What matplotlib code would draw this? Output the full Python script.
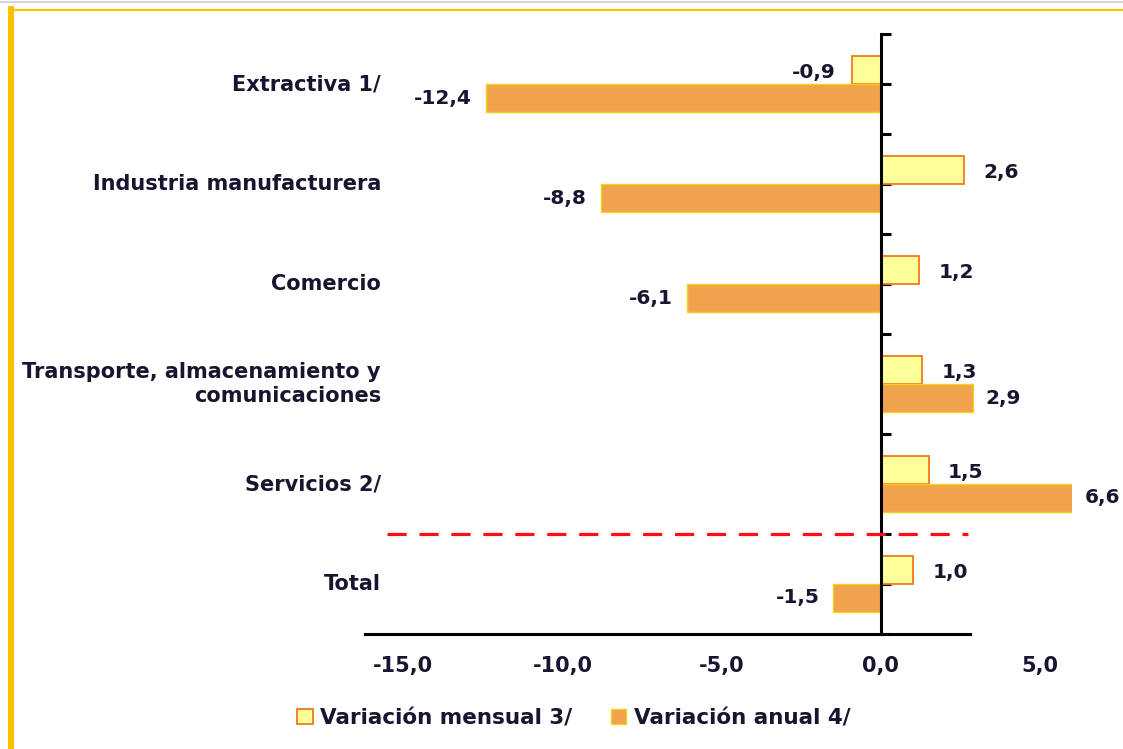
import matplotlib
matplotlib.use("Agg")
import matplotlib.pyplot as plt
from matplotlib.lines import Line2D
from matplotlib.patches import Patch
import numpy as np

categories = ["Extractiva 1/", "Industria manufacturera", "Comercio",
              "Transporte, almacenamiento y\ncomunicaciones", "Servicios 2/", "Total"]
monthly = [-0.9, 2.6, 1.2, 1.3, 1.5, 1.0]
annual = [-12.4, -8.8, -6.1, 2.9, 6.6, -1.5]
xticks = [-15.0, -10.0, -5.0, 0.0, 5.0]
legend_labels = ["Variación mensual 3/", "Variación anual 4/"]

plt.rcParams['font.family'] = ['DejaVu Sans']
TXT = '#161630'
FS_CAT = 15
FS_VAL = 14.5
FS_TICK = 15
FS_LEG = 15.5

W, H = 1123, 749
fig = plt.figure(figsize=(W / 100, H / 100), dpi=100)
fig.patch.set_facecolor('white')
ax = fig.add_axes([365 / W, 1 - 634 / H, (1072 - 365) / W, 600 / H])

XMIN, XMAX = -16.2, 6.0
y = np.arange(len(categories))
h = 0.28
ax.barh(y - h / 2, monthly, height=h, color='#FFFF99', edgecolor='#F07A1E', linewidth=1.3, zorder=2)
ax.barh(y + h / 2, annual, height=h, color='#F0A24C', edgecolor='#F2D21A', linewidth=1.0, zorder=2)

ax.set_xlim(XMIN, XMAX)
ax.set_ylim(len(categories) - 0.5, -0.5)

def fmt(v):
    return f"{v:.1f}".replace('.', ',')

for yi, v in zip(y, monthly):
    anchor = min(v, XMAX)
    ax.annotate(fmt(v), (anchor, yi - h / 2), xytext=(14 if v >= 0 else -12, -2),
                textcoords='offset points', ha='left' if v >= 0 else 'right', va='center',
                fontsize=FS_VAL, fontweight='bold', color=TXT)
for yi, v in zip(y, annual):
    anchor = min(v, XMAX)
    ax.annotate(fmt(v), (anchor, yi + h / 2), xytext=(9 if v >= 0 else -10, 0),
                textcoords='offset points', ha='left' if v >= 0 else 'right', va='center',
                fontsize=FS_VAL, fontweight='bold', color=TXT, annotation_clip=False)

# category labels
for yi, c in zip(y, categories):
    ax.text(0.0226, yi, c, transform=ax.get_yaxis_transform(), ha='right', va='center',
            fontsize=FS_CAT, fontweight='bold', color=TXT, linespacing=1.25)

# separator
ax.hlines(4.5, -15.5, 2.75, colors='#FF1010', linewidth=2.3, linestyles=(0, (6, 4)), zorder=3)

for s in ['top', 'right']:
    ax.spines[s].set_visible(False)
ax.spines['left'].set_position(('data', 0))
ax.spines['left'].set_linewidth(2.2)
ax.spines['bottom'].set_linewidth(2.2)
ax.spines['bottom'].set_bounds(XMIN, 2.8)

ax.set_yticks(np.arange(-0.5, len(categories), 0.5))
ax.tick_params(axis='y', direction='in', length=7, width=2.2, labelleft=False)
ax.set_xticks(xticks)
ax.set_xticklabels([fmt(t) for t in xticks])
ax.tick_params(axis='x', length=0, pad=16, labelsize=FS_TICK, labelcolor=TXT)
for lbl in ax.get_xticklabels():
    lbl.set_fontweight('bold')

handles = [Patch(facecolor='#FFFF99', edgecolor='#F07A1E', linewidth=1.3),
           Patch(facecolor='#F0A24C', edgecolor='#F2D21A', linewidth=1.0)]
leg = fig.legend(handles, legend_labels, loc='center', bbox_to_anchor=(0.511, 1 - 718 / H),
                 ncol=2, frameon=False, handlelength=0.7, handleheight=0.7, handletextpad=0.35,
                 columnspacing=1.8, prop={'size': FS_LEG, 'weight': 'bold'})
for t in leg.get_texts():
    t.set_color(TXT)

# frame decorations
fig.add_artist(Line2D([0, 1], [1 - 2 / H, 1 - 2 / H], transform=fig.transFigure, color='#d6d6d6', lw=1.5))
fig.add_artist(Line2D([9 / W, 1], [1 - 10 / H, 1 - 10 / H], transform=fig.transFigure, color='#FFC000', lw=1.6))
fig.add_artist(Line2D([11.5 / W, 11.5 / W], [0, 1 - 9 / H], transform=fig.transFigure, color='#FFC000', lw=4.3))

fig.savefig("out.png", dpi=100)
